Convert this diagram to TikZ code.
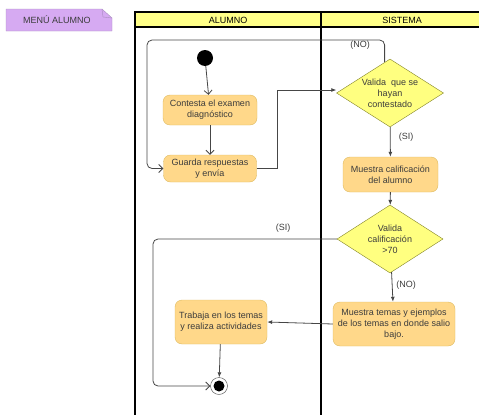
\documentclass[tikz,border=0pt]{standalone}
\usepackage{fontspec}
\setmainfont{Liberation Sans}
\usepackage{xcolor}
\usetikzlibrary{arrows.meta, positioning, calc, shapes.geometric}
\definecolor{notefill}{RGB}{214, 170, 242}
\definecolor{notedraw}{RGB}{168, 140, 190}
\definecolor{lanehead}{RGB}{255, 255, 136}
\definecolor{actfill}{RGB}{255, 216, 138}
\definecolor{actdraw}{RGB}{222, 186, 96}
\definecolor{decfill}{RGB}{255, 255, 128}
\definecolor{decdraw}{RGB}{130, 130, 40}
\definecolor{linegray}{RGB}{70, 70, 70}
\definecolor{textgray}{RGB}{60, 60, 60}
\newcommand{\txt}{\fontsize{9}{11}\selectfont}

\begin{document}
\begin{tikzpicture}[x=1pt, y=-1pt,
  act/.style={draw=actdraw, fill=actfill, rounded corners=7pt,
              font=\txt, align=center, inner sep=1pt, text=textgray},
  decision/.style={diamond, draw=decdraw, fill=decfill, aspect=1.57,
                   inner sep=0pt, font=\txt, align=center, text=textgray},
  flow/.style={draw=linegray, line width=0.8pt},
  openarr/.style={-{Straight Barb[length=4pt, width=8pt]}},
  lbl/.style={font=\txt, text=textgray},
  lane/.style={line width=1.3pt, draw=black},
  >={Latex[length=5pt, width=4pt]}
]
  \useasboundingbox (0,0) rectangle (479,415);

  % note in the corner
  \fill[notefill] (6,9) -- (102,9) -- (112,18) -- (112,31) -- (6,31) -- cycle;
  \draw[notedraw] (6,9) -- (102,9) -- (112,18) -- (112,31) -- (6,31) -- cycle;
  \draw[notedraw] (102,9) -- (103,17) -- (112,18);
  \node[font=\txt, text=textgray] (menu) at (57,20) {MENÚ ALUMNO};

  % swimlanes
  \fill[lanehead] (135,12) rectangle (479,27);
  \draw[lane] (479,12) -- (135,12) -- (135,415);
  \draw[lane] (135,27) -- (479,27);
  \draw[lane] (321,12) -- (321,415);
  \node[font=\txt] (alumno)  at (228,20) {ALUMNO};
  \node[font=\txt] (sistema) at (402,20) {SISTEMA};

  \node[circle, fill=black, minimum size=16pt, inner sep=0pt] (ini) at (205,58) {};
  \node[act, minimum width=94pt, minimum height=30pt] (contesta) at (210,110)
       {Contesta el examen\\diagnóstico};
  \node[act, minimum width=93pt, minimum height=27pt] (guarda) at (210,168.5)
       {Guarda respuestas\\y envía};
  \node[decision, minimum width=107pt, minimum height=68pt] (valida1) at (390,93)
       {Valida\ \ que se\\hayan\\contestado};
  \node[act, minimum width=95pt, minimum height=35pt] (califica) at (390.5,174.5)
       {Muestra calificación\\del alumno};
  \node[decision, minimum width=106pt, minimum height=68pt] (valida2) at (390,239)
       {Valida\\calificación\\>70};
  \node[act, minimum width=122pt, minimum height=44pt] (temas) at (394,324)
       {Muestra temas y ejemplos\\de los temas en donde salio\\bajo.};
  \node[act, minimum width=92pt, minimum height=44pt] (trabaja) at (221,322)
       {Trabaja en los temas\\y realiza actividades};
  \node[circle, draw=linegray, fill=white, minimum size=17pt, inner sep=0pt,
        path picture={\fill[black] (path picture bounding box.center) circle (5.5pt);}]
       (fin) at (219,386) {};

  \draw[flow, openarr] (ini) -- (contesta);
  \draw[flow, openarr] (contesta) -- (guarda);
  \draw[flow, ->] (guarda.east) -- ++(21,0) |- ([yshift=3pt]valida1.west);
  \draw[flow, openarr, rounded corners=5pt] ($(valida1.north)!0.1!(valida1.west)$)
       |- (147,40) -- (147,168.5) -- (guarda.west);
  \draw[flow, ->] (valida1) -- (califica);
  \draw[flow, ->] (califica) -- (valida2);
  \draw[flow, openarr, rounded corners=5pt] (valida2.west) -| (153,386) -- (fin.west);
  \draw[flow, ->] (valida2) -- (temas);
  \draw[flow, ->] (temas.west) -- (trabaja.east);
  \draw[flow, ->] (trabaja) -- (fin);

  \node[lbl] (no1) at (360,45)  {(NO)};
  \node[lbl] (si1) at (406,137) {(SI)};
  \node[lbl] (si2) at (283,228) {(SI)};
  \node[lbl] (no2) at (406,285) {(NO)};
\end{tikzpicture}
\end{document}
